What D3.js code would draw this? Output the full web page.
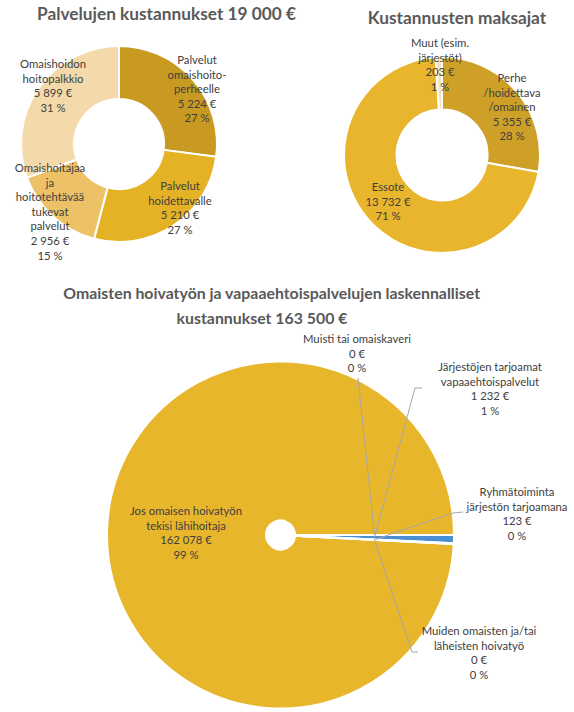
<!DOCTYPE html>
<html>
<head>
<meta charset="utf-8">
<script src="https://cdn.jsdelivr.net/npm/d3@7"></script>
<style>
  html, body { margin: 0; padding: 0; background: #ffffff; }
  svg { display: block; }
</style>
</head>
<body>
<svg id="chart" width="574" height="712"></svg>
<script>
// ---------------- DATA ----------------
const servicesTitle = "Palvelujen kustannukset 19 000 €";
const servicesCategories = [
  "Palvelut\nomaishoito-\nperheelle",
  "Palvelut\nhoidettavalle",
  "Omaishoitajaa\nja\nhoitotehtävää\ntukevat\npalvelut",
  "Omaishoidon\nhoitopalkkio"
];
const servicesValues = [5224, 5210, 2956, 5899];

const payersTitle = "Kustannusten maksajat";
const payersCategories = [
  "Perhe\n/hoidettava\n/omainen",
  "Essote",
  "Muut (esim.\njärjestöt)"
];
const payersValues = [5355, 13732, 203];

const careTitleLines = [
  "Omaisten hoivatyön ja vapaaehtoispalvelujen laskennalliset",
  "kustannukset 163 500 €"
];
const careCategories = [
  "Jos omaisen hoivatyön\ntekisi lähihoitaja",
  "Muisti tai omaiskaveri",
  "Järjestöjen tarjoamat\nvapaaehtoispalvelut",
  "Ryhmätoiminta\njärjestön tarjoamana",
  "Muiden omaisten ja/tai\nläheisten hoivatyö"
];
const careValues = [162078, 0, 1232, 123, 0];

// ---------------- STYLE / LAYOUT ----------------
const servicesColors = ["#C99A22", "#E5B226", "#EDC267", "#F4DAAA"];
const payersColors = ["#CFA027", "#E8B52C", "#F6E2B6"];
const careColors = ["#E8B62B", "#ED7D31", "#4A8FD3", "#A5A5A5", "#FFC000"];

const titleColor = "#595959";
const labelColor = "#404040";
const leaderColor = "#A6A6A6";
const fontFamily = "Lato, 'Open Sans', 'Liberation Sans', sans-serif";
const labelSize = 11.3;
const lineStep = 14.6;

const fmtLocale = d3.formatLocale({ decimal: ",", thousands: "\u00a0", grouping: [3], currency: ["", "\u00a0€"] });
const fmtEuro = v => fmtLocale.format(",d")(v) + "\u00a0€";
const fmtPct = (v, total) => Math.round(100 * v / total) + "\u00a0%";

const svg = d3.select("#chart");

function makeTitle(text, cx, baseline) {
  return svg.append("text")
    .attr("x", cx).attr("y", baseline)
    .attr("text-anchor", "middle")
    .attr("font-family", fontFamily)
    .attr("font-weight", "bold")
    .attr("fill", titleColor)
    .attr("font-size", 20)
    .text(text);
}
function fitSize(sel, targetWidth) {
  sel.attr("font-size", 20);
  const w = sel.node().getComputedTextLength();
  const s = 20 * targetWidth / w;
  sel.attr("font-size", s);
  return s;
}

function drawLabel(g, lines, x, yFirst) {
  const t = g.append("text")
    .attr("text-anchor", "middle")
    .attr("font-family", fontFamily)
    .attr("font-size", labelSize)
    .attr("fill", labelColor);
  lines.forEach((ln, i) => {
    t.append("tspan")
      .attr("x", x)
      .attr("y", yFirst + i * lineStep)
      .attr("dy", "0.35em")
      .text(ln);
  });
}

function drawDonut(opts) {
  const { cx, cy, rOuter, rInner, startAngle, values, categories, colors, labelPos, strokeW } = opts;
  const total = d3.sum(values);
  const pie = d3.pie().sort(null).value(d => d)
    .startAngle(startAngle).endAngle(startAngle + 2 * Math.PI);
  const arcs = pie(values);
  const arc = d3.arc().innerRadius(rInner).outerRadius(rOuter);
  const g = svg.append("g").attr("transform", `translate(${cx},${cy})`);
  g.selectAll("path.slice").data(arcs).join("path")
    .attr("class", "slice")
    .attr("d", arc)
    .attr("fill", (d, i) => colors[i])
    .attr("stroke", "#ffffff")
    .attr("stroke-width", strokeW)
    .attr("stroke-linejoin", "round");
  if (opts.leaders) {
    const line = d3.line();
    arcs.forEach((a, i) => {
      const pts = opts.leaders[i];
      if (!pts) return;
      const c = arc.centroid(a);
      g.append("path")
        .attr("d", line([c, ...pts]))
        .attr("fill", "none")
        .attr("stroke", leaderColor)
        .attr("stroke-width", 1);
    });
  }
  arcs.forEach((a, i) => {
    const lines = categories[i].split("\n").concat([fmtEuro(values[i]), fmtPct(values[i], total)]);
    drawLabel(g, lines, labelPos[i][0], labelPos[i][1]);
  });
}

// ---- Titles ----
const t1 = makeTitle(servicesTitle, 166.5, 20);
const s1 = fitSize(t1, 259);
const t2 = makeTitle(payersTitle, 457, 24);
t2.attr("font-size", s1);
const t3a = makeTitle(careTitleLines[0], 271.7, 299);
const s3 = fitSize(t3a, 417);
const t3b = makeTitle(careTitleLines[1], 262, 324);
t3b.attr("font-size", s3);

// ---- Chart 1: Palvelujen kustannukset ----
drawDonut({
  cx: 119, cy: 144, rOuter: 98, rInner: 45, startAngle: 0,
  values: servicesValues, categories: servicesCategories, colors: servicesColors,
  strokeW: 2,
  labelPos: [[78, -84], [61, 42], [-69, 24], [-66, -80]]
});

// ---- Chart 2: Kustannusten maksajat ----
drawDonut({
  cx: 442, cy: 155, rOuter: 98, rInner: 45.5, startAngle: 0,
  values: payersValues, categories: payersCategories, colors: payersColors,
  strokeW: 2,
  labelPos: [[70, -77], [-54, 32], [-2, -112]]
});

// ---- Chart 3: Omaisten hoivatyö ----
drawDonut({
  cx: 280.5, cy: 535, rOuter: 173.5, rInner: 14.5, startAngle: 93 * Math.PI / 180,
  values: careValues, categories: careCategories, colors: careColors,
  strokeW: 2,
  labelPos: [[-94.5, -24], [76.5, -196], [209.5, -168], [236.5, -43], [198.5, 96]],
  leaders: [
    null,
    [[77.5, -157]],
    [[134.5, -147], [141.5, -147]],
    [[172.5, -22], [182.5, -23]],
    [[131.5, 117], [137.5, 117]]
  ]
});
</script>
</body>
</html>
